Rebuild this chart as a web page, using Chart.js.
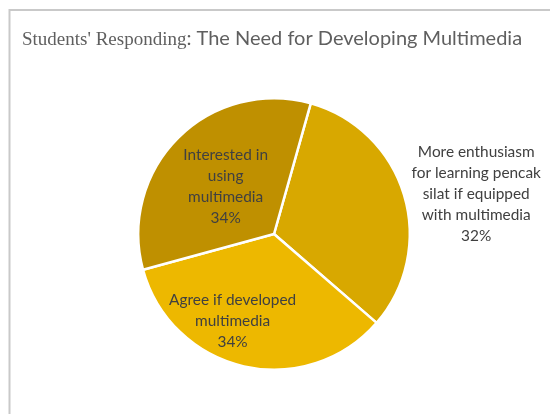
<!DOCTYPE html>
<html>
<head>
<meta charset="utf-8">
<script src="https://cdn.jsdelivr.net/npm/chart.js@4/dist/chart.umd.min.js"></script>
<style>
html,body{margin:0;padding:0;background:#fff;}
#wrap{position:relative;width:550px;height:414px;}
</style>
</head>
<body>
<div id="wrap"><canvas id="c" width="550" height="414"></canvas></div>
<script>
// ---- data ----
const titleSerif = "Students' Responding";
const titleSans = ": The Need for Developing Multimedia";
const categories = [
  ['More enthusiasm', 'for learning pencak', 'silat if equipped', 'with multimedia'],
  ['Agree if developed', 'multimedia'],
  ['Interested in', 'using', 'multimedia']
];
const values = [32, 34.4, 33.6];
const sliceColors = ['#D8A800', '#EDB800', '#BF9000'];

// label placement (style): angle offset in degrees, radial factor
const labelPlace = [
  {da: 5.6, f: 1.518},
  {da: 12.5, f: 0.713},
  {da: -0.9, f: 0.498}
];

const frameAndTitle = {
  id: 'frameAndTitle',
  beforeDraw(chart) {
    const ctx = chart.ctx;
    ctx.save();
    ctx.fillStyle = '#fff';
    ctx.fillRect(0, 0, chart.width, chart.height);
    ctx.strokeStyle = '#C9C9C9';
    ctx.lineWidth = 2;
    ctx.strokeRect(9.5, 10, 600, 500);
    ctx.fillStyle = '#5f5f5f';
    ctx.textBaseline = 'alphabetic';
    ctx.textAlign = 'left';
    ctx.font = '19px "Liberation Serif", "DejaVu Serif", serif';
    ctx.fillText(titleSerif, 22, 45);
    const w = ctx.measureText(titleSerif).width;
    ctx.font = '20px Lato, "Open Sans", sans-serif';
    ctx.fillText(titleSans, 22 + w, 45);
    ctx.restore();
  }
};

const sliceLabels = {
  id: 'sliceLabels',
  afterDatasetsDraw(chart) {
    const ctx = chart.ctx;
    const meta = chart.getDatasetMeta(0);
    const data = chart.data.datasets[0].data;
    const total = data.reduce((a, b) => a + b, 0);
    ctx.save();
    ctx.font = '15.4px Lato, "Open Sans", sans-serif';
    ctx.fillStyle = '#404040';
    ctx.textAlign = 'center';
    ctx.textBaseline = 'middle';
    const lh = 21;
    meta.data.forEach((arc, i) => {
      const p = arc.getProps(['x', 'y', 'startAngle', 'endAngle', 'outerRadius'], true);
      const place = labelPlace[i];
      const mid = (p.startAngle + p.endAngle) / 2 + place.da * Math.PI / 180;
      const r = p.outerRadius * place.f;
      const cx = p.x + Math.cos(mid) * r;
      const cy = p.y + Math.sin(mid) * r;
      const lines = [].concat(chart.data.labels[i], Math.round(data[i] / total * 100) + '%');
      const y0 = cy - (lines.length - 1) * lh / 2;
      lines.forEach((t, k) => ctx.fillText(t, cx, y0 + k * lh));
    });
    ctx.restore();
  }
};

new Chart(document.getElementById('c'), {
  type: 'pie',
  data: {
    labels: categories,
    datasets: [{
      data: values,
      backgroundColor: sliceColors,
      borderColor: '#ffffff',
      borderWidth: 2.5
    }]
  },
  options: {
    responsive: false,
    animation: false,
    rotation: 15.7,
    layout: {padding: {left: 137, right: 139, top: 97, bottom: 43}},
    plugins: {legend: {display: false}, tooltip: {enabled: false}, title: {display: false}}
  },
  plugins: [frameAndTitle, sliceLabels]
});
</script>
</body>
</html>
